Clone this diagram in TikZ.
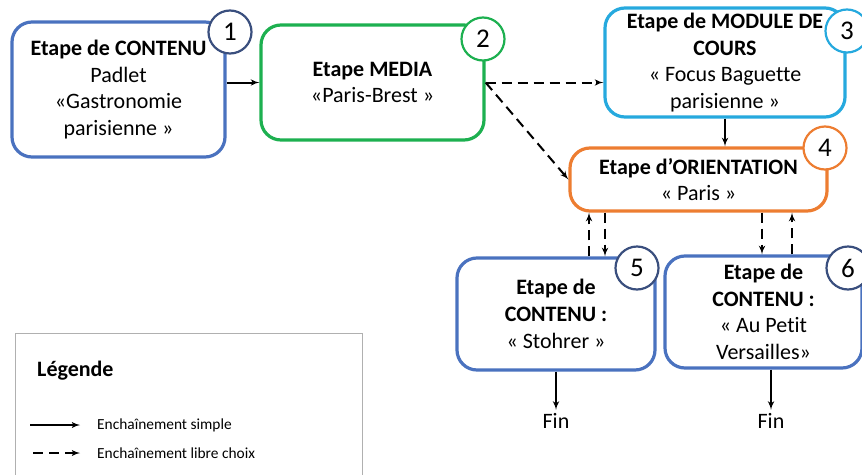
\documentclass[tikz,border=0pt]{standalone}
\usepackage{fontspec}
\setmainfont[Ligatures=NoCommon]{Carlito}
\usepackage{xcolor}
\usepackage{tikz}
\usetikzlibrary{shapes,arrows,calc}
\definecolor{boxblue}{HTML}{4A72BF}
\definecolor{navy}{HTML}{3A4F7E}
\definecolor{boxgreen}{HTML}{1DB050}
\definecolor{skyblue}{HTML}{26A9DE}
\definecolor{boxorange}{HTML}{ED7D31}
\definecolor{legendgrey}{HTML}{B0B0B0}
\tikzstyle{line} = [draw, -latex', line width=2pt]
\tikzstyle{dline} = [line, dash pattern=on 10pt off 6pt]
\tikzstyle{etape} = [rectangle, rounded corners=20pt, draw, line width=3.2pt, fill=white, align=center, inner sep=2pt, font=\fontsize{22}{26.7}\selectfont]
\tikzstyle{num} = [circle, draw, line width=2.2pt, fill=white, minimum size=43pt, inner sep=0pt, font=\fontsize{27}{30}\selectfont]
\tikzstyle{small} = [anchor=west, inner sep=0pt, font=\fontsize{15.4}{18}\selectfont]

\begin{document}
\begin{tikzpicture}[x=1pt, y=-1pt]

\clip (0,0) rectangle (862,474);

% etapes
\node [etape, draw=boxblue, minimum width=213pt, minimum height=135pt] (1) at (118.5,89.5) {\textbf{Etape de CONTENU}\\Padlet\\«Gastronomie\\parisienne »};
\node [etape, draw=boxgreen, minimum width=223pt, minimum height=115pt] (2) at (372.5,82.5) {\textbf{Etape MEDIA}\\«Paris-Brest »};
\node [etape, draw=skyblue, minimum width=240pt, minimum height=109pt] (3) at (725,62.5) {\textbf{Etape de MODULE DE}\\\textbf{COURS}\\« Focus Baguette\\parisienne »};
\node [etape, draw=boxorange, minimum width=257pt, minimum height=63pt] (4) at (698.5,179.5) {\textbf{Etape d’ORIENTATION}\\« Paris »};
\node [etape, draw=boxblue, minimum width=198pt, minimum height=112pt] (5) at (556,314) {\textbf{Etape de}\\\textbf{CONTENU :}\\« Stohrer »};
\node [etape, draw=boxblue, minimum width=197pt, minimum height=112pt] (6) at (763.5,312) {\textbf{Etape de}\\\textbf{CONTENU :}\\« Au Petit\\Versailles»};

% numeros
\node [num, draw=navy] (n1) at (230,32) {1};
\node [num, draw=boxgreen] (n2) at (483,39) {2};
\node [num, draw=skyblue] (n3) at (847,31) {3};
\node [num, draw=boxorange] (n4) at (825,148) {4};
\node [num, draw=navy] (n5) at (637,268) {5};
\node [num, draw=navy] (n6) at (848,268) {6};

% fins
\node [font=\fontsize{22}{26}\selectfont] (fin5) at (556,421) {Fin};
\node [font=\fontsize{22}{26}\selectfont] (fin6) at (771,421) {Fin};

% voies verticales
\coordinate (lane1) at (589,0);
\coordinate (lane2) at (605,0);
\coordinate (lane3) at (762,0);
\coordinate (lane4) at (792,0);

\path [line] (2.west -| 1.east) -- (2.west);
\path [dline] (2.east) -- (3.west |- 2.east);
\path [dline] (2.east) -- (4.west);
\path [line] (3.south) -- (3.south |- 4.north);

\path [dline] (lane1 |- 5.north) -- (lane1 |- 4.south);
\path [dline] (lane2 |- 4.south) -- (lane2 |- 5.north);
\path [dline] (lane3 |- 4.south) -- (lane3 |- 6.north);
\path [dline] (lane4 |- 6.north) -- (lane4 |- 4.south);

\path [line] (5.south) -- (fin5.north);
\path [line] (fin6.north |- 6.south) -- (fin6.north);

% legende
\node [draw=legendgrey, line width=1pt, anchor=north west, minimum width=347pt, minimum height=170pt] (legend) at (15,333) {};
\node [anchor=west, inner sep=0pt, font=\fontsize{22}{26}\selectfont\bfseries] (legtitle) at (37,371) {Légende};
\node [small] (simple) at (97,425) {Enchaînement simple};
\node [small] (libre) at (97,453) {Enchaînement libre choix};
\coordinate (s1) at (30,425);
\coordinate (s2) at (80,425);
\coordinate (l1) at (33,453);
\coordinate (l2) at (80,453);
\path [line, line width=1.8pt] (s1) -- (s2);
\path [dline, line width=1.8pt] (l1) -- (l2);

\end{tikzpicture}
\end{document}
